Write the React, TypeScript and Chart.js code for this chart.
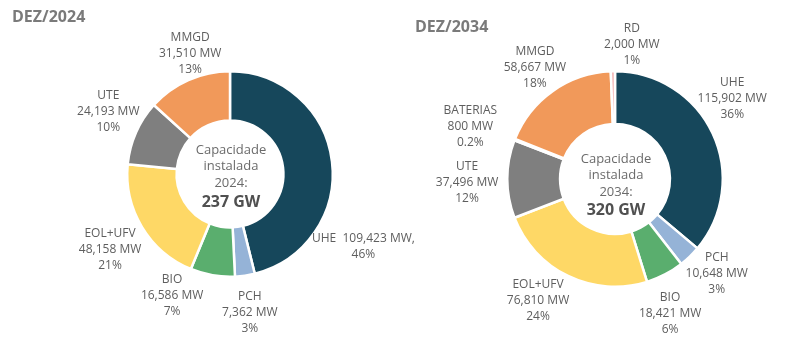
import React, { useEffect, useRef } from 'react';
import { Chart, registerables } from 'chart.js';

Chart.register(...registerables);

// ---- Data ----
const labels2024 = ['UHE', 'PCH', 'BIO', 'EOL+UFV', 'UTE', 'MMGD'];
const values2024 = [109423, 7362, 16586, 48158, 24193, 31510];
const pct2024 = ['46%', '3%', '7%', '21%', '10%', '13%'];
const total2024 = '237 GW';
const year2024 = '2024';
const title2024 = 'DEZ/2024';

const labels2034 = ['UHE', 'PCH', 'BIO', 'EOL+UFV', 'UTE', 'BATERIAS', 'MMGD', 'RD'];
const values2034 = [115902, 10648, 18421, 76810, 37496, 800, 58667, 2000];
const pct2034 = ['36%', '3%', '6%', '24%', '12%', '0.2%', '18%', '1%'];
const total2034 = '320 GW';
const year2034 = '2034';
const title2034 = 'DEZ/2034';

// ---- Styles ----
const colorMap: Record<string, string> = {
  UHE: '#16475b',
  PCH: '#95b3d7',
  BIO: '#5aae6e',
  'EOL+UFV': '#fed866',
  UTE: '#7f7f7f',
  BATERIAS: '#f2f2f2',
  MMGD: '#f1995a',
  RD: '#f2b3b3',
};

const FONT = '"Open Sans", "DejaVu Sans", sans-serif';

// label placement: [angle shift (deg), distance from center (px), inline first line]
const place2024: [number, number, boolean][] = [
  [35.6, 152, true],
  [0.2, 140, false],
  [15.6, 135, false],
  [-1.3, 142, false],
  [3.5, 137, false],
  [5.6, 127, false],
];
const place2034: [number, number, boolean][] = [
  [-9.4, 142, false],
  [-3.1, 139, false],
  [5.3, 145, false],
  [6.5, 144, false],
  [-1.5, 148, false],
  [-1.4, 154, false],
  [-0.6, 137, false],
  [8.3, 135, false],
];

const fmt = (v: number) => v.toLocaleString('en-US');

const donutLabels = {
  id: 'donutLabels',
  afterDraw(chart: any) {
    const o = chart.options.plugins.donutLabels;
    if (!o) return;
    const ctx = chart.ctx;
    const meta = chart.getDatasetMeta(0);
    const a0 = meta.data[0];
    const cx = a0.x;
    const cy = a0.y;
    ctx.save();
    // title
    ctx.font = `bold 16px ${FONT}`;
    ctx.fillStyle = '#7a7a7a';
    ctx.textAlign = 'left';
    ctx.textBaseline = 'middle';
    ctx.fillText(o.title, o.titleX, o.titleY);

    // center text
    ctx.textAlign = 'center';
    ctx.fillStyle = '#6b6b6b';
    ctx.font = `13px ${FONT}`;
    const cl = ['Capacidade', 'instalada', o.year + ':'];
    cl.forEach((t: string, i: number) => ctx.fillText(t, cx + 1, cy + o.centerOffsets[i]));
    ctx.font = `bold 16px ${FONT}`;
    ctx.fillStyle = '#505050';
    ctx.fillText(o.total, cx + 1, cy + o.centerOffsets[3]);

    // slice labels
    ctx.font = `12px ${FONT}`;
    ctx.fillStyle = '#5e5e5e';
    const labels = chart.data.labels;
    const values = chart.data.datasets[0].data;
    meta.data.forEach((arc: any, i: number) => {
      const p = arc.getProps(['startAngle', 'endAngle'], true);
      const [shift, dist, inline] = o.place[i];
      const ang = (p.startAngle + p.endAngle) / 2 + (shift * Math.PI) / 180;
      const x = cx + Math.cos(ang) * dist;
      const y = cy + Math.sin(ang) * dist;
      const lines = inline
        ? [`${labels[i]}  ${fmt(values[i])} MW,`, o.pct[i]]
        : [labels[i], `${fmt(values[i])} MW`, o.pct[i]];
      const lh = 16;
      const y0 = y - ((lines.length - 1) * lh) / 2;
      lines.forEach((t: string, k: number) => ctx.fillText(t, x, y0 + k * lh));
    });
    ctx.restore();
  },
};

type DonutProps = {
  labels: string[];
  values: number[];
  pct: string[];
  total: string;
  year: string;
  title: string;
  place: [number, number, boolean][];
  left: number;
  width: number;
  padding: { left: number; top: number; right: number; bottom: number };
  cutout: string;
  titleX: number;
  titleY: number;
  centerOffsets: number[];
};

function Donut(props: DonutProps) {
  const ref = useRef<HTMLCanvasElement | null>(null);
  useEffect(() => {
    if (!ref.current) return;
    const chart = new Chart(ref.current, {
      type: 'doughnut',
      data: {
        labels: props.labels,
        datasets: [
          {
            data: props.values,
            backgroundColor: props.labels.map((l) => colorMap[l]),
            borderColor: '#ffffff',
            borderWidth: 2.5,
          },
        ],
      },
      options: {
        responsive: false,
        maintainAspectRatio: false,
        animation: false,
        devicePixelRatio: 1,
        cutout: props.cutout,
        layout: { padding: props.padding },
        plugins: {
          legend: { display: false },
          tooltip: { enabled: false },
          donutLabels: {
            title: props.title,
            titleX: props.titleX,
            titleY: props.titleY,
            year: props.year,
            total: props.total,
            pct: props.pct,
            place: props.place,
            centerOffsets: props.centerOffsets,
          },
        } as any,
      },
      plugins: [donutLabels],
    });
    return () => chart.destroy();
  }, []);
  return (
    <canvas
      ref={ref}
      width={props.width}
      height={354}
      style={{ position: 'absolute', left: props.left, top: 0, width: props.width, height: 354 }}
    />
  );
}

export default function App() {
  return (
    <div style={{ position: 'fixed', left: 0, top: 0, width: 785, height: 354, background: '#fff' }}>
      <Donut
        labels={labels2024}
        values={values2024}
        pct={pct2024}
        total={total2024}
        year={year2024}
        title={title2024}
        place={place2024}
        left={0}
        width={440}
        padding={{ left: 126, top: 70, right: 106, bottom: 76 }}
        cutout="52%"
        titleX={12}
        titleY={17}
        centerOffsets={[-24, -8, 9, 28]}
      />
      <Donut
        labels={labels2034}
        values={values2034}
        pct={pct2034}
        total={total2034}
        year={year2034}
        title={title2034}
        place={place2034}
        left={395}
        width={390}
        padding={{ left: 111, top: 70, right: 61, bottom: 66 }}
        cutout="51%"
        titleX={20}
        titleY={27}
        centerOffsets={[-20, -4, 13, 31]}
      />
    </div>
  );
}
